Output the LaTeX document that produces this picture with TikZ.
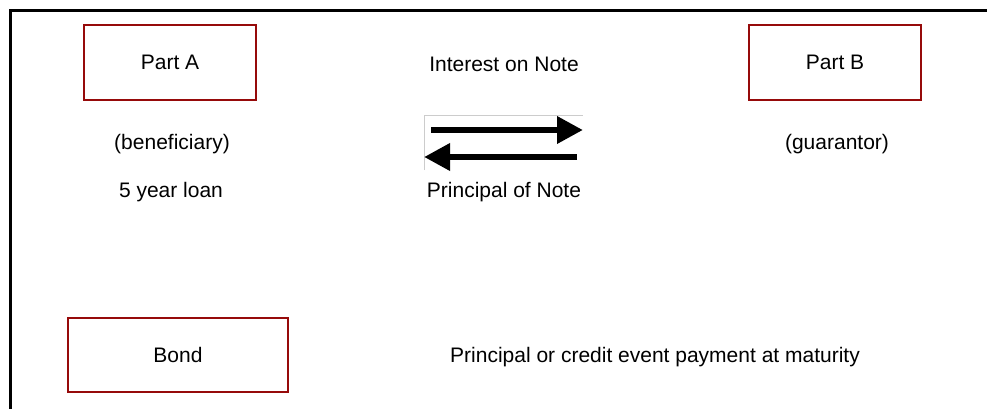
\documentclass[tikz,border=0pt]{standalone}
\usepackage{fontspec}
\setmainfont{Liberation Sans}
\usetikzlibrary{arrows.meta}
\definecolor{boxred}{RGB}{150,10,10}
\tikzset{
  party/.style={draw=boxred,line width=2pt,minimum width=172pt,minimum height=75pt,inner sep=0pt},
  lbl/.style={inner sep=0pt,anchor=center},
  flow/.style={line width=6.5pt,-{Triangle[length=26pt,width=26pt]}}
}
\begin{document}
\begin{tikzpicture}[x=1pt,y=-1pt,font=\fontsize{21}{25}\selectfont]
  \useasboundingbox (0,0) rectangle (987,409);
  \draw[line width=3pt] (10,409) -- (10,11) -- (987,11);
  \draw
    (170,62.5) node[party] (partA){\raisebox{-1.5pt}{Part A}}
    (835,62.5) node[party] (partB){\raisebox{-1.5pt}{Part B}}
    (178,355) node[party,minimum width=220pt,minimum height=74pt] (bond){\raisebox{-1.5pt}{Bond}};
  \draw
    (504,64.5) node[lbl] (interest){Interest on Note}
    (172,144.5) node[lbl] (benef){(beneficiary)}
    (837,144.5) node[lbl] (guar){(guarantor)}
    (171,192.5) node[lbl] (loan){5 year loan}
    (504,192.5) node[lbl] (principal){Principal of Note}
    (655,357.5) node[lbl] (payment){Principal or credit event payment at maturity};
  % arrow picture
  \coordinate (picTL) at (424,115);
  \coordinate (picTR) at (583,115);
  \coordinate (picBL) at (424,170);
  \draw[gray!40,line width=0.8pt] (picBL) -- (picTL) -- (picTR);
  \coordinate (outS) at (431,130);
  \coordinate (outE) at (583,130);
  \coordinate (inS) at (577,157);
  \coordinate (inE) at (424,157);
  \begin{scope}[flow]
    \draw (outS) to (outE);
    \draw (inS) to (inE);
  \end{scope}
\end{tikzpicture}
\end{document}
